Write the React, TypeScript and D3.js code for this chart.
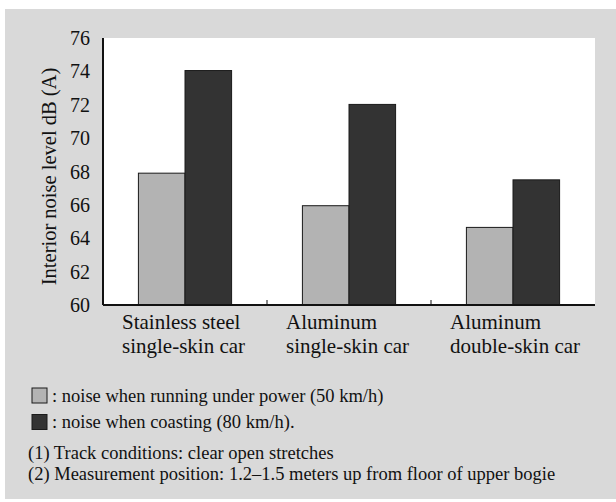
import React from "react";
import * as d3 from "d3";

const categories = ["Stainless steel|single-skin car", "Aluminum|single-skin car", "Aluminum|double-skin car"];
const seriesNames = ["noise when running under power (50 km/h)", "noise when coasting (80 km/h)."];
const powerValues = [67.9, 65.95, 64.65];
const coastValues = [74.05, 72.02, 67.5];
const yTicks = [60, 62, 64, 66, 68, 70, 72, 74, 76];
const notes = ["(1) Track conditions: clear open stretches", "(2) Measurement position: 1.2\u20131.5 meters up from floor of upper bogie"];
const yLabel = "Interior noise level dB (A)";

const colors = ["#b3b3b3", "#333333"];
const FONT = '"Liberation Serif", "Times New Roman", Times, "DejaVu Serif", serif';

export default function App() {
  const W = 616, H = 502;
  const left = 103, right = 595, top = 38, bottom = 305;
  const x = d3.scaleBand<string>().domain(categories).range([left, right]).padding(0);
  const inner = d3.scaleBand<number>().domain([0, 1]).range([0, x.bandwidth()]).paddingInner(0).paddingOuter(0.76);
  const y = d3.scaleLinear().domain([60, 76]).range([bottom, top]);
  const series = [powerValues, coastValues];
  const ts = { fontFamily: FONT } as React.CSSProperties;

  return (
    <svg width={W} height={H} style={{ position: "absolute", left: 0, top: 0, fontFamily: FONT }}>
      <rect x={5} y={9} width={611} height={490} fill="#d9d9d9" />
      <rect x={left} y={top} width={right - left} height={bottom - top} fill="#ffffff" />
      {series.map((vals, si) =>
        categories.map((c, ci) => (
          <rect
            key={`${si}-${ci}`}
            x={(x(c) as number) + (inner(si) as number)}
            y={y(vals[ci])}
            width={inner.bandwidth()}
            height={bottom - y(vals[ci])}
            fill={colors[si]}
            stroke="#1a1a1a"
            strokeWidth={1}
          />
        ))
      )}
      <line x1={left} x2={left} y1={top} y2={bottom} stroke="#111" strokeWidth={2} />
      <line x1={left} x2={right} y1={bottom} y2={bottom} stroke="#111" strokeWidth={2} />
      {categories.slice(1).map((c) => (
        <line key={c} x1={x(c)} x2={x(c)} y1={bottom} y2={bottom - 5} stroke="#111" strokeWidth={1} />
      ))}
      {yTicks.map((t) => (
        <text key={t} x={90} y={y(t)} dy="0.35em" textAnchor="end" fontSize={20} fill="#111" style={ts}>
          {t}
        </text>
      ))}
      <text
        transform={`translate(49, ${(top + bottom) / 2 + 5}) rotate(-90)`}
        textAnchor="middle"
        dy="0.35em"
        fontSize={20.5}
        fill="#111"
        style={ts}
      >
        {yLabel}
      </text>
      {categories.map((c) => (
        <text key={c} fontSize={21} fill="#111" style={ts}>
          {c.split("|").map((line, i) => (
            <tspan key={i} x={(x(c) as number) + 19} y={329 + i * 24}>
              {line}
            </tspan>
          ))}
        </text>
      ))}
      {seriesNames.map((s, i) => (
        <g key={s}>
          <rect x={32} y={388 + i * 26.5} width={15} height={15} fill={colors[i]} stroke="#1a1a1a" strokeWidth={1} />
          <text x={52} y={401.5 + i * 26} fontSize={18.5} fill="#111" style={ts}>
            {": " + s}
          </text>
        </g>
      ))}
      {notes.map((n, i) => (
        <text key={n} x={28} y={459 + i * 21} fontSize={18.5} fill="#111" style={ts}>
          {n}
        </text>
      ))}
    </svg>
  );
}
